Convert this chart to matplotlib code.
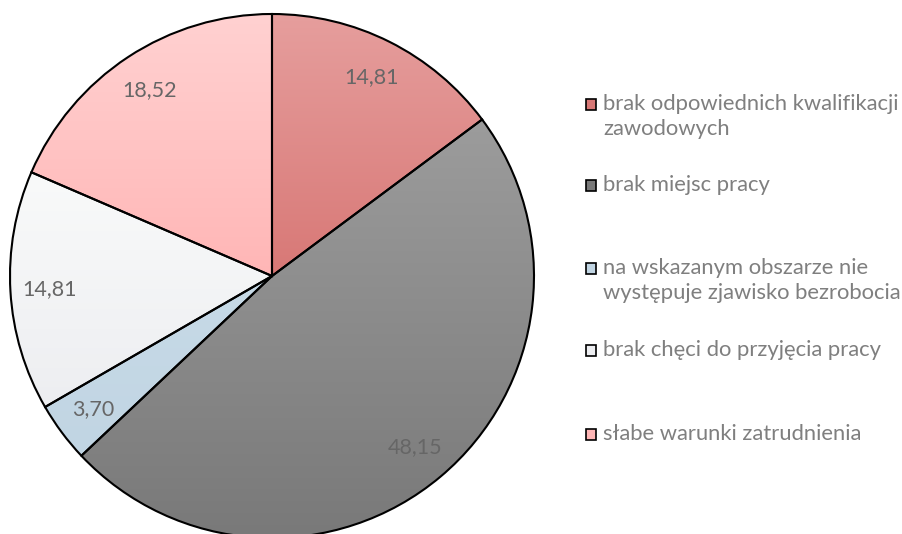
import numpy as np
import matplotlib.pyplot as plt
from matplotlib.colors import to_rgb
from matplotlib.patches import Rectangle

values = [14.81, 48.15, 3.70, 14.81, 18.52]
labels = ['14,81', '48,15', '3,70', '14,81', '18,52']
names = ['brak odpowiednich kwalifikacji\nzawodowych',
         'brak miejsc pracy',
         'na wskazanym obszarze nie\nwystępuje zjawisko bezrobocia',
         'brak chęci do przyjęcia pracy',
         'słabe warunki zatrudnienia']
top_colors = ['#E69E9D', '#9C9C9C', '#C7DAE7', '#F9FAFA', '#FFD1D1']
bottom_colors = ['#D87876', '#797979', '#C1D5E3', '#EDEEF1', '#FFB6B6']

plt.rcParams['font.family'] = ['Lato', 'DejaVu Sans']

fig = plt.figure(figsize=(9.02, 5.34), dpi=100)
ax = fig.add_axes([0, 0, 1, 1])

cx, cy, r = 272, 534 - 276, 262
wedges, texts = ax.pie(values, startangle=90, counterclock=False, radius=r,
                       center=(cx, cy), labels=labels, labeldistance=0.85,
                       wedgeprops=dict(edgecolor='black', linewidth=1.5),
                       textprops=dict(color='#666666', fontsize=15.5),
                       frame=True)
for t in texts:
    t.set_ha('center')
    t.set_va('center')

# vertical gradient inside each slice
for w, c0, c1 in zip(wedges, top_colors, bottom_colors):
    w.set_facecolor('none')
    bb = w.get_path().get_extents(w.get_patch_transform())
    a, b = np.array(to_rgb(c0)), np.array(to_rgb(c1))
    t = np.linspace(0, 1, 256)[:, None]
    grad = (a * (1 - t) + b * t)[:, None, :]
    im = ax.imshow(grad, extent=(bb.x0, bb.x1, bb.y0, bb.y1), origin='upper',
                   aspect='auto', zorder=0.5, interpolation='bilinear')
    im.set_clip_path(w)

ax.set_xlim(0, 902)
ax.set_ylim(0, 534)
ax.set_axis_off()

# legend, placed by hand like the original
ys = [104, 185, 268, 350, 434]
for y, name, c1 in zip(ys, names, bottom_colors):
    yy = 534 - y
    ax.add_patch(Rectangle((586, yy - 5.5), 10, 11, facecolor=c1,
                           edgecolor='black', linewidth=1.2, zorder=3))
    for i, ln in enumerate(name.split('\n')):
        ax.text(603, yy - i * 25, ln, ha='left', va='center',
                fontsize=15.8, color='#7F7F7F')

fig.savefig('out.png', dpi=100)
